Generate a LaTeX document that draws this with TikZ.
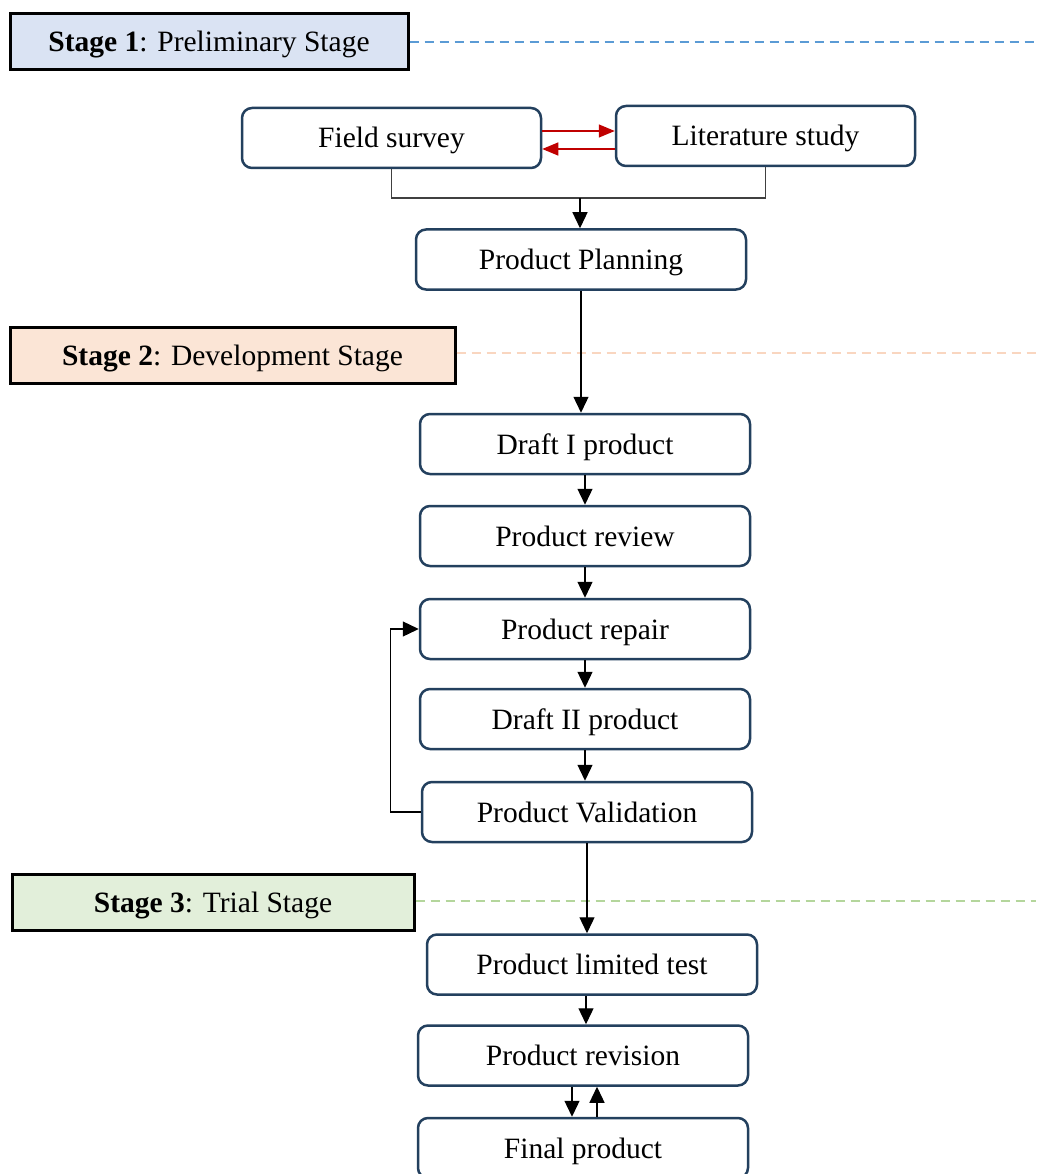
\documentclass[tikz,border=0pt]{standalone}
\usepackage{fontspec}
\setmainfont{Liberation Serif}
\usetikzlibrary{arrows.meta,calc}
\definecolor{boxline}{HTML}{23405E}
\definecolor{sOneFill}{HTML}{DAE3F3}
\definecolor{sTwoFill}{HTML}{FBE5D6}
\definecolor{sThreeFill}{HTML}{E2EFDA}
\definecolor{sOneLine}{HTML}{5B9BD5}
\definecolor{sTwoLine}{HTML}{F9D6C0}
\definecolor{sThreeLine}{HTML}{B4D69C}
\definecolor{redarr}{HTML}{C00000}
\tikzset{
  pbox/.style={draw=boxline, line width=2.5pt, rounded corners=10pt, fill=white,
    minimum width=330pt, minimum height=60pt, inner sep=0pt,
    text height=24pt, text depth=4pt,
    font=\fontsize{29.5}{33}\selectfont},
  stagebox/.style={draw=black, line width=3pt, minimum height=56pt, inner sep=0pt,
    text height=24pt, text depth=4pt,
    font=\fontsize{29.5}{33}\selectfont},
  arr/.style={line width=1.3pt, -{Triangle[width=15pt,length=16pt]}},
  plain/.style={line width=1.1pt, draw=black!75},
  redar/.style={draw=redarr, line width=1.3pt, -{Triangle[width=13pt,length=16pt]}},
  stageline/.style={line width=2.5pt, dash pattern=on 9pt off 6pt}
}
\begin{document}
\begin{tikzpicture}[x=1pt,y=-1pt]
\clip (0,0) rectangle (1036,1174);
\fill[white] (0,0) rectangle (1036,1174);
% stage boxes
\node[stagebox, fill=sOneFill, minimum width=398pt] (s1) at (209,42) {\textbf{Stage 1}: Preliminary Stage};
\node[stagebox, fill=sTwoFill, minimum width=445pt] (s2) at (232.5,355) {\textbf{Stage 2}: Development Stage};
\node[stagebox, fill=sThreeFill, minimum width=402pt] (s3) at (213,902) {\textbf{Stage 3}: Trial Stage};
\coordinate (e1) at (1036,42);
\coordinate (e2) at (1036,353);
\coordinate (e3) at (1036,901);
\draw[stageline, sOneLine] (s1.east) -- (e1);
\draw[stageline, sTwoLine] (s2.east |- e2) -- (e2);
\draw[stageline, sThreeLine] (s3.east |- e3) -- (e3);
% process boxes
\node[pbox, minimum width=299pt] (fs) at (391.5,138) {Field survey};
\node[pbox, minimum width=299pt] (ls) at (765.5,136) {Literature study};
\node[pbox] (pp) at (581,259.5) {Product Planning};
\node[pbox] (d1) at (585,444) {Draft I product};
\node[pbox] (rw) at (585,536) {Product review};
\node[pbox] (rp) at (585,629) {Product repair};
\node[pbox] (d2) at (585,719) {Draft II product};
\node[pbox] (va) at (587,812) {Product Validation};
\node[pbox] (lt) at (592,964.5) {Product limited test};
\node[pbox] (rv) at (583,1055.5) {Product revision};
\node[pbox] (fp) at (583,1148) {Final product};
% red arrows
\draw[redar] ([yshift=7pt]fs.east) -- ([yshift=7pt]fs.east -| ls.west);
\draw[redar] ([yshift=-11pt]fs.east -| ls.west) -- ([yshift=-11pt]fs.east);
% merge bracket
\coordinate (j) at (580,198);
\draw[plain] (fs.south) |- (j);
\draw[plain] (ls.south) |- (j);
\draw[arr] (j) -- (j |- pp.north);
% main flow
\draw[arr] (pp.south) -- (pp.south |- d1.north);
\draw[arr] (d1.south) -- (rw.north);
\draw[arr] (rw.south) -- (rp.north);
\draw[arr] (rp.south) -- (d2.north);
\draw[arr] (d2.south) -- (d2.south |- va.north);
\draw[arr] (va.south) -- (va.south |- lt.north);
\draw[arr] ([xshift=3pt]lt.south -| rv.north) -- ([xshift=3pt]rv.north);
\draw[arr] ([xshift=-11pt]rv.south) -- ([xshift=-11pt]fp.north);
\draw[arr] ([xshift=14pt]fp.north) -- ([xshift=14pt]rv.south);
% loop back
\draw[arr] (va.west) -- ++(-30,0) |- (rp.west);
\end{tikzpicture}
\end{document}
